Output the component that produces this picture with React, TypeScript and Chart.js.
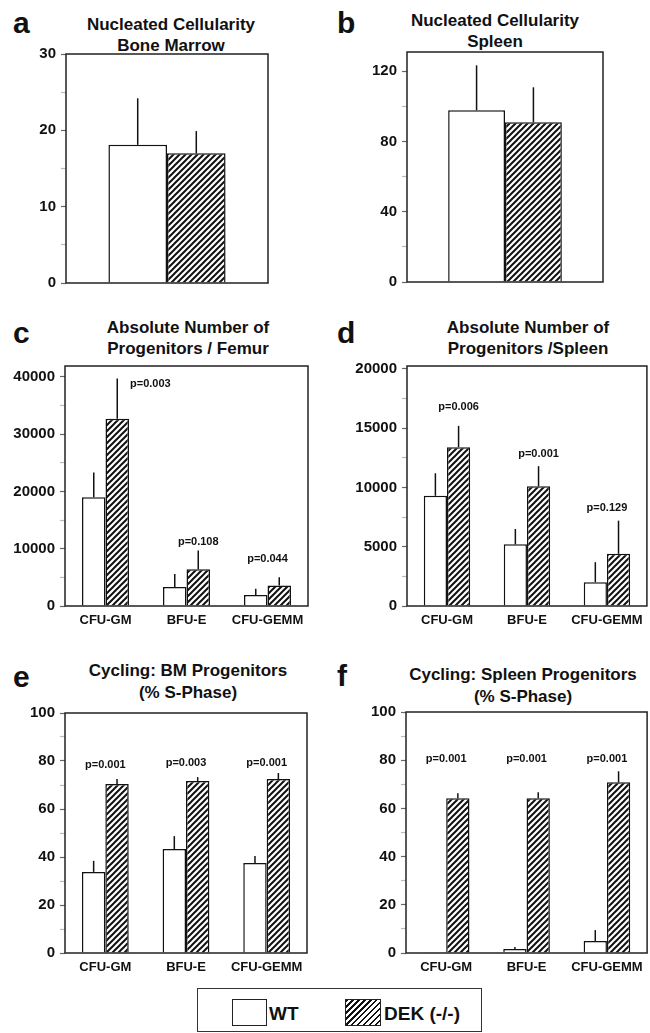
import React, { useEffect, useRef } from 'react';
import { Chart, registerables } from 'chart.js';

Chart.register(...registerables);

const FONT = '"Liberation Sans", Arial, Helvetica, sans-serif';

// ---------- data ----------
const progenitorLabels = ['CFU-GM', 'BFU-E', 'CFU-GEMM'];
const singleLabel = [''];

// a: Nucleated cellularity, bone marrow
const aWT = [18.1];
const aWTErr = [6.1];
const aDEK = [17.0];
const aDEKErr = [2.9];

// b: Nucleated cellularity, spleen
const bWT = [97.8];
const bWTErr = [25.6];
const bDEK = [91.0];
const bDEKErr = [19.9];

// c: Absolute number of progenitors / femur
const cWT = [19000, 3300, 1900];
const cWTErr = [4300, 2300, 1100];
const cDEK = [32700, 6400, 3600];
const cDEKErr = [7000, 3300, 1400];
const cP = ['p=0.003', 'p=0.108', 'p=0.044'];
const cPY = [38800, 11100, 8200];

// d: Absolute number of progenitors / spleen
const dWT = [9300, 5200, 2000];
const dWTErr = [1900, 1300, 1700];
const dDEK = [13400, 10100, 4400];
const dDEKErr = [1800, 1700, 2800];
const dP = ['p=0.006', 'p=0.001', 'p=0.129'];
const dPY = [16800, 12800, 8300];

// e: Cycling BM progenitors (% S-phase)
const eWT = [33.8, 43.3, 37.5];
const eWTErr = [4.6, 5.4, 2.9];
const eDEK = [70.4, 71.7, 72.5];
const eDEKErr = [2.1, 1.6, 2.5];
const eP = ['p=0.001', 'p=0.003', 'p=0.001'];
const ePY = [78.3, 79.2, 79.2];

// f: Cycling spleen progenitors (% S-phase)
const fWT = [0.3, 1.7, 5.0];
const fWTErr = [0, 0.8, 4.5];
const fDEK = [64.2, 64.2, 70.8];
const fDEKErr = [2.1, 2.5, 4.6];
const fP = ['p=0.001', 'p=0.001', 'p=0.001'];
const fPY = [80.4, 80.4, 80.4];

// ---------- helpers ----------
function makeHatch(ctx: CanvasRenderingContext2D): CanvasPattern | string {
  const tile = document.createElement('canvas');
  const s = 6;
  tile.width = s;
  tile.height = s;
  const t = tile.getContext('2d');
  if (!t) return '#888';
  t.fillStyle = '#fff';
  t.fillRect(0, 0, s, s);
  t.strokeStyle = '#111';
  t.lineWidth = 2;
  t.beginPath();
  t.moveTo(0, s);
  t.lineTo(s, 0);
  t.moveTo(-1, 1);
  t.lineTo(1, -1);
  t.moveTo(s - 1, s + 1);
  t.lineTo(s + 1, s - 1);
  t.stroke();
  return ctx.createPattern(tile, 'repeat') || '#888';
}

const framePlugin = {
  id: 'frame',
  afterDraw(chart: any) {
    const { ctx, chartArea } = chart;
    ctx.save();
    ctx.strokeStyle = '#222';
    ctx.lineWidth = 1.5;
    ctx.strokeRect(chartArea.left, chartArea.top, chartArea.right - chartArea.left, chartArea.bottom - chartArea.top);
    ctx.restore();
  },
};

const errorPlugin = {
  id: 'errbars',
  afterDatasetsDraw(chart: any) {
    const { ctx } = chart;
    const y = chart.scales.y;
    chart.data.datasets.forEach((ds: any, i: number) => {
      const meta = chart.getDatasetMeta(i);
      meta.data.forEach((el: any, j: number) => {
        const e = ds.errs ? ds.errs[j] : 0;
        if (!e) return;
        const top = y.getPixelForValue(ds.data[j] + e);
        ctx.save();
        ctx.strokeStyle = '#111';
        ctx.lineWidth = 1.5;
        ctx.beginPath();
        ctx.moveTo(el.x, el.y);
        ctx.lineTo(el.x, top);
        ctx.stroke();
        ctx.restore();
      });
    });
  },
};

type Box = { x: number; y: number; w: number; h: number };
type Plot = { l: number; t: number; r: number; b: number };

type PanelProps = {
  box: Box;
  plot: Plot;
  labels: string[];
  wt: number[];
  wtErr: number[];
  dek: number[];
  dekErr: number[];
  yMax: number;
  yStep: number;
  yMajor: number;
  showX: boolean;
  pText?: string[];
  pY?: number[];
  pAnchor?: string[];
};

function Panel(props: PanelProps) {
  const ref = useRef<HTMLCanvasElement>(null);
  useEffect(() => {
    const canvas = ref.current;
    if (!canvas) return;
    const ctx = canvas.getContext('2d');
    if (!ctx) return;
    const { box, plot } = props;
    const hatch = makeHatch(ctx);
    const isMajor = (v: number) => {
      const r = Math.abs(v % props.yMajor);
      return r < 1e-6 || Math.abs(r - props.yMajor) < 1e-6;
    };

    const pPlugin = {
      id: 'plabels',
      afterDatasetsDraw(chart: any) {
        if (!props.pText || !props.pY) return;
        const c = chart.ctx;
        const xs = chart.scales.x;
        const ys = chart.scales.y;
        const dekMeta = chart.getDatasetMeta(1);
        c.save();
        c.fillStyle = '#111';
        c.font = `bold 11px ${FONT}`;
        c.textBaseline = 'middle';
        props.pText.forEach((txt, j) => {
          const anchor = props.pAnchor ? props.pAnchor[j] : 'cat';
          const el = dekMeta.data[j] as any;
          const py = ys.getPixelForValue(props.pY![j]);
          if (anchor === 'side') {
            c.textAlign = 'left';
            c.fillText(txt, el.x + el.width / 2 + 1, py);
          } else if (anchor === 'dek') {
            c.textAlign = 'center';
            c.fillText(txt, el.x, py);
          } else {
            c.textAlign = 'center';
            c.fillText(txt, xs.getPixelForValue(j), py);
          }
        });
        c.restore();
      },
    };

    const chart = new Chart(canvas, {
      type: 'bar',
      data: {
        labels: props.labels,
        datasets: [
          {
            label: 'WT',
            data: props.wt,
            backgroundColor: '#fff',
            borderColor: '#111',
            borderWidth: 1.5,
            categoryPercentage: 0.58,
            barPercentage: 1,
            errs: props.wtErr,
          } as any,
          {
            label: 'DEK (-/-)',
            data: props.dek,
            backgroundColor: hatch,
            borderColor: '#111',
            borderWidth: 1.5,
            categoryPercentage: 0.58,
            barPercentage: 1,
            errs: props.dekErr,
          } as any,
        ],
      },
      options: {
        responsive: false,
        animation: false,
        devicePixelRatio: 1,
        layout: {
          padding: {
            top: plot.t - box.y,
            right: box.x + box.w - plot.r,
            left: 0,
            bottom: 0,
          },
        },
        plugins: {
          legend: { display: false },
          tooltip: { enabled: false },
          title: { display: false },
        },
        scales: {
          x: {
            type: 'category',
            offset: true,
            grid: { display: false, drawTicks: false },
            border: { display: false },
            ticks: {
              display: props.showX,
              color: '#111',
              padding: 7,
              maxRotation: 0,
              autoSkip: false,
              font: { size: 13, weight: 'bold', family: FONT },
            },
            afterFit: (s: any) => {
              s.height = box.y + box.h - plot.b;
            },
          },
          y: {
            min: 0,
            max: props.yMax,
            grid: {
              drawOnChartArea: false,
              drawTicks: true,
              tickLength: 5,
              tickWidth: 1.2,
              tickColor: (c: any) => (c.tick && isMajor(c.tick.value) ? '#666' : '#bbb'),
            },
            border: { display: false },
            ticks: {
              autoSkip: false,
              padding: 5,
              color: '#111',
              font: { size: 15, weight: 'bold', family: FONT },
              callback: (v: any) => (isMajor(Number(v)) ? String(v) : ''),
            },
            afterBuildTicks: (s: any) => {
              const ticks: { value: number }[] = [];
              for (let k = 0; k * props.yStep <= props.yMax + 1e-9; k++) {
                ticks.push({ value: k * props.yStep });
              }
              s.ticks = ticks;
            },
            afterFit: (s: any) => {
              s.width = plot.l - box.x;
            },
          },
        } as any,
      },
      plugins: [framePlugin, errorPlugin, pPlugin],
    });
    return () => chart.destroy();
  }, []);
  const { box } = props;
  return (
    <canvas
      ref={ref}
      width={box.w}
      height={box.h}
      style={{ position: 'absolute', left: box.x, top: box.y, width: box.w, height: box.h }}
    />
  );
}

function Title(p: { cx: number; top: number; lh: number; lines: string[] }) {
  return (
    <div
      style={{
        position: 'absolute',
        left: p.cx - 160,
        width: 320,
        top: p.top,
        textAlign: 'center',
        fontFamily: FONT,
        fontWeight: 'bold',
        fontSize: 17,
        lineHeight: p.lh + 'px',
        color: '#111',
        whiteSpace: 'nowrap',
      }}
    >
      {p.lines.map((l) => (
        <div key={l}>{l}</div>
      ))}
    </div>
  );
}

function Letter(p: { x: number; top: number; t: string }) {
  return (
    <div
      style={{
        position: 'absolute',
        left: p.x,
        top: p.top,
        fontFamily: FONT,
        fontWeight: 'bold',
        fontSize: 30,
        lineHeight: '30px',
        color: '#111',
      }}
    >
      {p.t}
    </div>
  );
}

function Legend() {
  const txt: React.CSSProperties = {
    position: 'absolute',
    fontFamily: FONT,
    fontWeight: 'bold',
    fontSize: 19,
    lineHeight: '19px',
    color: '#111',
    top: 1003.5,
    whiteSpace: 'nowrap',
  };
  return (
    <>
      <div
        style={{
          position: 'absolute',
          left: 197,
          top: 988,
          width: 285,
          height: 44,
          border: '1.5px solid #333',
          boxSizing: 'border-box',
        }}
      />
      <div
        style={{
          position: 'absolute',
          left: 232,
          top: 999,
          width: 35,
          height: 27,
          border: '1.5px solid #222',
          boxSizing: 'border-box',
          background: '#fff',
        }}
      />
      <div style={{ ...txt, left: 269 }}>WT</div>
      <div
        style={{
          position: 'absolute',
          left: 345,
          top: 999,
          width: 36,
          height: 27,
          border: '1.5px solid #222',
          boxSizing: 'border-box',
          background: 'repeating-linear-gradient(135deg, #111 0px, #111 1.6px, #fff 1.6px, #fff 4.2px)',
        }}
      />
      <div style={{ ...txt, left: 384 }}>DEK (-/-)</div>
    </>
  );
}

export default function App() {
  return (
    <div
      style={{
        position: 'absolute',
        left: 0,
        top: 0,
        width: 650,
        height: 1033,
        overflow: 'hidden',
        background: '#fff',
      }}
    >
      <Letter x={13} top={7.6} t="a" />
      <Letter x={337} top={7.6} t="b" />
      <Letter x={13} top={317.6} t="c" />
      <Letter x={337} top={317.6} t="d" />
      <Letter x={13} top={661.6} t="e" />
      <Letter x={337} top={660.6} t="f" />

      <Title cx={171} top={13.5} lh={21} lines={['Nucleated Cellularity', 'Bone Marrow']} />
      <Title cx={495} top={9.5} lh={21} lines={['Nucleated Cellularity', 'Spleen']} />
      <Title cx={188} top={316.5} lh={21} lines={['Absolute Number of', 'Progenitors / Femur']} />
      <Title cx={528} top={316.5} lh={21} lines={['Absolute Number of', 'Progenitors /Spleen']} />
      <Title cx={188} top={659.75} lh={22.5} lines={['Cycling: BM Progenitors', '(% S-Phase)']} />
      <Title cx={523} top={663.75} lh={22.5} lines={['Cycling: Spleen Progenitors', '(% S-Phase)']} />

      <Panel
        box={{ x: 0, y: 34, w: 325, h: 266 }}
        plot={{ l: 66, t: 54, r: 268, b: 283 }}
        labels={singleLabel}
        wt={aWT}
        wtErr={aWTErr}
        dek={aDEK}
        dekErr={aDEKErr}
        yMax={30}
        yStep={5}
        yMajor={10}
        showX={false}
      />
      <Panel
        box={{ x: 325, y: 32, w: 325, h: 268 }}
        plot={{ l: 407, t: 52, r: 603, b: 282 }}
        labels={singleLabel}
        wt={bWT}
        wtErr={bWTErr}
        dek={bDEK}
        dekErr={bDEKErr}
        yMax={131}
        yStep={20}
        yMajor={40}
        showX={false}
      />
      <Panel
        box={{ x: 0, y: 346, w: 325, h: 290 }}
        plot={{ l: 65, t: 366, r: 308, b: 606 }}
        labels={progenitorLabels}
        wt={cWT}
        wtErr={cWTErr}
        dek={cDEK}
        dekErr={cDEKErr}
        yMax={41900}
        yStep={5000}
        yMajor={10000}
        showX={true}
        pText={cP}
        pY={cPY}
        pAnchor={['side', 'dek', 'cat']}
      />
      <Panel
        box={{ x: 325, y: 346, w: 325, h: 290 }}
        plot={{ l: 407, t: 366, r: 648, b: 606 }}
        labels={progenitorLabels}
        wt={dWT}
        wtErr={dWTErr}
        dek={dDEK}
        dekErr={dDEKErr}
        yMax={20250}
        yStep={2500}
        yMajor={5000}
        showX={true}
        pText={dP}
        pY={dPY}
        pAnchor={['dek', 'dek', 'cat']}
      />
      <Panel
        box={{ x: 0, y: 693, w: 325, h: 290 }}
        plot={{ l: 65, t: 713, r: 307, b: 953 }}
        labels={progenitorLabels}
        wt={eWT}
        wtErr={eWTErr}
        dek={eDEK}
        dekErr={eDEKErr}
        yMax={100}
        yStep={10}
        yMajor={20}
        showX={true}
        pText={eP}
        pY={ePY}
        pAnchor={['cat', 'cat', 'cat']}
      />
      <Panel
        box={{ x: 325, y: 692, w: 325, h: 291 }}
        plot={{ l: 406, t: 712, r: 648, b: 953 }}
        labels={progenitorLabels}
        wt={fWT}
        wtErr={fWTErr}
        dek={fDEK}
        dekErr={fDEKErr}
        yMax={100}
        yStep={10}
        yMajor={20}
        showX={true}
        pText={fP}
        pY={fPY}
        pAnchor={['cat', 'cat', 'cat']}
      />

      <Legend />
    </div>
  );
}
